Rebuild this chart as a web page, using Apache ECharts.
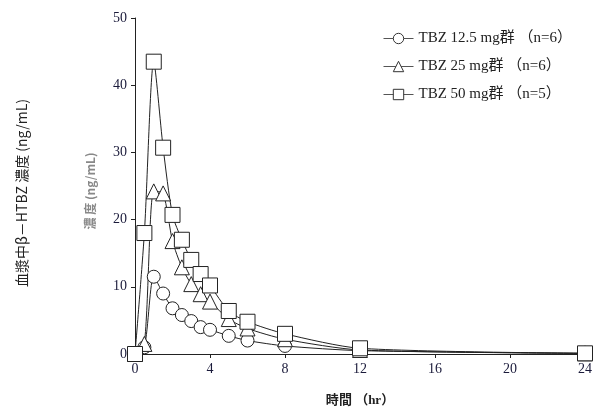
<!DOCTYPE html>
<html>
<head>
<meta charset="utf-8">
<script src="https://cdn.jsdelivr.net/npm/echarts@6/dist/echarts.min.js"></script>
<style>html,body{margin:0;padding:0;background:#fff}#c{width:595px;height:412px}</style>
</head>
<body>
<div id="c"></div>
<script>
var times = [0, 0.5, 1, 1.5, 2, 2.5, 3, 3.5, 4, 5, 6, 8, 12, 24];
var seriesNames = ['TBZ 12.5 mg群 （n=6）', 'TBZ 25 mg群 （n=6）', 'TBZ 50 mg群 （n=5）'];
var dose12 = [0, 1.0, 11.5, 9.0, 6.8, 5.8, 4.9, 4.0, 3.6, 2.7, 2.0, 1.2, 0.5, 0.1];
var dose25 = [0, 1.5, 24.2, 23.9, 16.8, 12.9, 10.4, 8.9, 7.8, 5.2, 3.8, 2.2, 0.6, 0.1];
var dose50 = [0, 18.0, 43.5, 30.7, 20.7, 17.0, 14.0, 11.9, 10.2, 6.4, 4.8, 3.0, 0.85, 0.1];
var symbols = ['circle', 'triangle', 'rect'];
var xTicks = [0, 4, 8, 12, 16, 20, 24];
var yTicks = [0, 10, 20, 30, 40, 50];

function pairs(v) { return times.map(function (t, i) { return [t, v[i]]; }); }

var chart = echarts.init(document.getElementById('c'));
var serif = '"Liberation Serif", "Noto Sans CJK JP", serif';
var mk = function (name, data, sym, size) {
  return {
    name: name, type: 'line', data: pairs(data), smooth: 0.25,
    symbol: sym, symbolSize: size,
    lineStyle: { color: '#222', width: 1 },
    itemStyle: { color: '#fff', borderColor: '#222', borderWidth: 1 },
    emphasis: { disabled: true }, animation: false
  };
};
chart.setOption({
  animation: false,
  grid: { left: 135, right: 8, top: 18, bottom: 57 },
  xAxis: {
    type: 'value', min: 0, max: 24, interval: 4,
    axisLine: { lineStyle: { color: '#222', width: 1 } },
    axisTick: { show: true, length: 4, lineStyle: { color: '#222' } },
    splitLine: { show: false },
    axisLabel: { fontFamily: serif, fontSize: 14, color: '#1a1a3a', margin: 8,
      formatter: function (v) { return xTicks.indexOf(v) >= 0 ? String(v) : ''; } },
    name: '時間 （hr）', nameLocation: 'middle', nameGap: 40,
    nameTextStyle: { fontFamily: serif, fontSize: 13, fontWeight: 'bold', color: '#222' }
  },
  yAxis: {
    type: 'value', min: 0, max: 50, interval: 10,
    axisLine: { show: true, lineStyle: { color: '#222', width: 1 } },
    axisTick: { show: true, length: 4, lineStyle: { color: '#222' } },
    splitLine: { show: false },
    axisLabel: { fontFamily: serif, fontSize: 14, color: '#1a1a3a', margin: 8,
      formatter: function (v) { return yTicks.indexOf(v) >= 0 ? String(v) : ''; } }
  },
  legend: {
    orient: 'vertical', left: 378, top: 26, itemGap: 13,
    itemWidth: 30, itemHeight: 13,
    data: seriesNames,
    lineStyle: { color: '#555', width: 1 },
    itemStyle: { borderWidth: 1, borderColor: '#333' },
    textStyle: { fontFamily: serif, fontSize: 15, color: '#222' }
  },
  graphic: [
    { type: 'text', x: 22, y: 193, rotation: Math.PI / 2,
      style: { text: '血漿中β－HTBZ 濃度 (ng/mL)', fontFamily: '"Noto Sans CJK JP", sans-serif', fontSize: 14,
        fill: '#222', align: 'center', verticalAlign: 'middle' } },
    { type: 'text', x: 90, y: 191, rotation: Math.PI / 2,
      style: { text: '濃 度 (ng/mL)', fontFamily: '"Noto Sans CJK JP", serif', fontSize: 12, fontWeight: 'bold',
        fill: '#888', align: 'center', verticalAlign: 'middle' } }
  ],
  series: [
    mk(seriesNames[0], dose12, symbols[0], 13),
    mk(seriesNames[1], dose25, symbols[1], 15),
    mk(seriesNames[2], dose50, symbols[2], 15)
  ]
});
</script>
</body>
</html>
